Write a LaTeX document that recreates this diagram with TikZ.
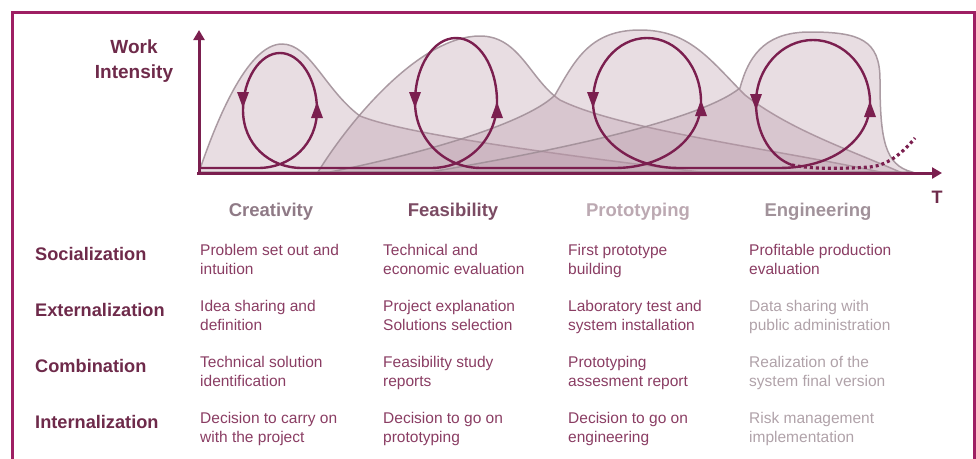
\documentclass[tikz,border=0pt]{standalone}
\usepackage{fontspec}
\setmainfont{Liberation Sans}
\usetikzlibrary{arrows.meta}

\definecolor{frame}{HTML}{9E1F63}
\definecolor{wine}{HTML}{7B1F4F}
\definecolor{mode}{HTML}{6E2A4A}
\definecolor{hump}{HTML}{B796A6}
\definecolor{humpline}{HTML}{9E8C95}
\definecolor{cell}{HTML}{8A3D63}
\definecolor{faded}{HTML}{B0A2A9}
\definecolor{creacol}{HTML}{8F7A86}
\definecolor{feascol}{HTML}{7B4B63}
\definecolor{protcol}{HTML}{BCA9B2}
\definecolor{engcol}{HTML}{A1929A}

\tikzset{
  phase/.style={fill=hump, fill opacity=0.32, draw=humpline, draw opacity=0.85, line width=1.5},
  spiral/.style={draw=wine, line width=2.4},
  axis/.style={draw=wine, line width=3, -{Triangle[length=10,width=11]}},
  tip down/.pic={\fill[wine] (-6,-8) -- (0,8) -- (6,-8) -- cycle;},
  tip up/.pic={\fill[wine] (-6,8) -- (0,-8) -- (6,8) -- cycle;},
  mode/.style={anchor=west, inner sep=0, text=mode, font=\bfseries\fontsize{18.2}{22}\selectfont},
  stage/.style={anchor=base, inner sep=0, font=\bfseries\fontsize{18.5}{22}\selectfont},
  cell/.style={anchor=north west, inner sep=0, align=left, text=cell, font=\fontsize{15.5}{19}\selectfont},
  faded/.style={cell, text=faded}
}

\begin{document}
\begin{tikzpicture}[x=1pt, y=-1pt]
\useasboundingbox (0,0) rectangle (976,458);
\draw[frame, line width=3] (12,470) |- (974,12) -- (974,470);

% work intensity of each stage
\draw[phase] (199,172) .. controls (220,110) and (250,44) .. (282,44) .. controls (310,44) and (325,90) .. (360,116) .. controls (400,132) and (520,150) .. (700,172) -- cycle;
\draw[phase] (318,172) .. controls (350,120) and (420,36) .. (480,36) .. controls (520,36) and (530,80) .. (560,100) .. controls (620,130) and (780,150) .. (880,172) -- cycle;
\draw[phase] (330,172) .. controls (440,150) and (530,120) .. (555,95) .. controls (575,60) and (590,30) .. (640,30) .. controls (690,30) and (710,60) .. (745,95) .. controls (790,130) and (850,150) .. (900,172) -- cycle;
\draw[phase] (430,172) .. controls (560,150) and (700,120) .. (740,88) .. controls (750,50) and (770,32) .. (810,32) .. controls (860,32) and (880,40) .. (880,80) .. controls (880,140) and (885,165) .. (912,172) -- cycle;

% axes
\draw[axis] (199,174) -- (199,30);
\draw[axis] (197,173) -- (942,173);

% knowledge spiral
\draw[spiral] (199,168) -- (258,168)
  .. controls (291,168) and (317,144) .. (317,110) .. controls (317,79) and (300,53) .. (280,53)
  .. controls (260,53) and (243,79) .. (243,110) .. controls (243,144) and (269,168) .. (302,168) -- (431,168)
  .. controls (469,168) and (497,138) .. (497,102) .. controls (497,67) and (479,38) .. (456,38)
  .. controls (433,38) and (415,67) .. (415,102) .. controls (415,138) and (443,168) .. (481,168) -- (615,168)
  .. controls (665,168) and (701,138) .. (701,102) .. controls (701,67) and (677,38) .. (647,38)
  .. controls (617,38) and (593,67) .. (593,102) .. controls (593,138) and (629,168) .. (679,168) -- (779,168)
  .. controls (835,168) and (870,138) .. (870,103) .. controls (870,68) and (844,40) .. (813,40)
  .. controls (782,40) and (756,68) .. (756,103) .. controls (756,135) and (772,158) .. (792,165);
\draw[wine, line width=3.2, dash pattern=on 3 off 3] (792,165) .. controls (810,169) and (840,169) .. (870,167) .. controls (890,165) and (905,150) .. (915,138);

\pic at (243,100) {tip down};
\pic at (317,110) {tip up};
\pic at (415,100) {tip down};
\pic at (497,110) {tip up};
\pic at (593,100) {tip down};
\pic at (701,108) {tip up};
\pic at (756,102) {tip down};
\pic at (870,109) {tip up};

\node[anchor=north, inner sep=0, align=center, text=mode, font=\bfseries\fontsize{19}{25}\selectfont] (work) at (134,40) {Work\\Intensity};
\node[anchor=base, inner sep=0, text=mode, font=\bfseries\fontsize{18}{22}\selectfont] (time) at (937,203) {T};

% stages
\node[stage, text=creacol] (creativity) at (271,216) {Creativity};
\node[stage, text=feascol] (feasibility) at (453,216) {Feasibility};
\node[stage, text=protcol] (prototyping) at (638,216) {Prototyping};
\node[stage, text=engcol] (engineering) at (818,216) {Engineering};

% SECI modes
\node[mode] (socialization) at (35,254) {Socialization};
\node[mode] (externalization) at (35,310) {Externalization};
\node[mode] (combination) at (35,366) {Combination};
\node[mode] (internalization) at (35,422) {Internalization};

\node[cell] (soc1) at (200,244) {Problem set out and\\intuition};
\node[cell] (soc2) at (383,244) {Technical and\\economic evaluation};
\node[cell] (soc3) at (568,244) {First prototype\\building};
\node[cell] (soc4) at (749,244) {Profitable production\\evaluation};

\node[cell] (ext1) at (200,300) {Idea sharing and\\definition};
\node[cell] (ext2) at (383,300) {Project explanation\\Solutions selection};
\node[cell] (ext3) at (568,300) {Laboratory test and\\system installation};
\node[faded] (ext4) at (749,300) {Data sharing with\\public administration};

\node[cell] (com1) at (200,356) {Technical solution\\identification};
\node[cell] (com2) at (383,356) {Feasibility study\\reports};
\node[cell] (com3) at (568,356) {Prototyping\\assesment report};
\node[faded] (com4) at (749,356) {Realization of the\\system final version};

\node[cell] (int1) at (200,412) {Decision to carry on\\with the project};
\node[cell] (int2) at (383,412) {Decision to go on\\prototyping};
\node[cell] (int3) at (568,412) {Decision to go on\\engineering};
\node[faded] (int4) at (749,412) {Risk management\\implementation};
\end{tikzpicture}
\end{document}
